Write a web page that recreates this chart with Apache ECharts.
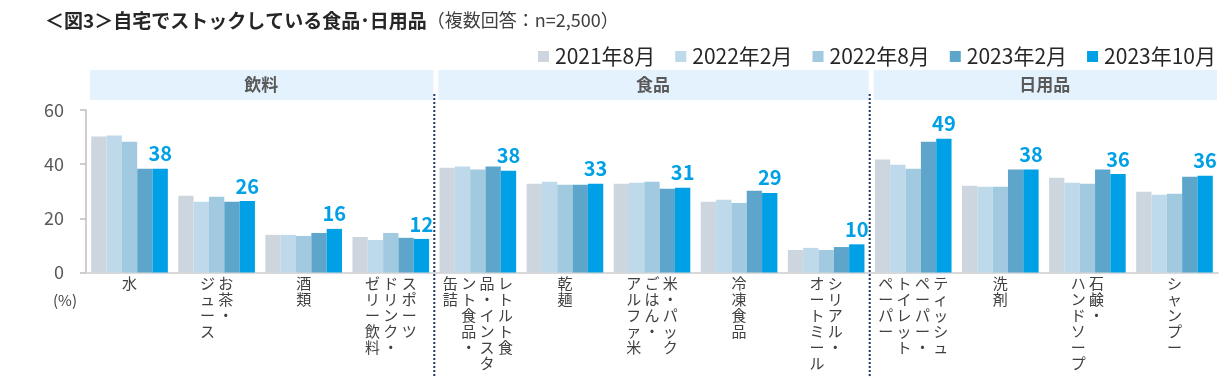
<!DOCTYPE html>
<html>
<head>
<meta charset="utf-8">
<script src="https://cdn.jsdelivr.net/npm/echarts@6/dist/echarts.min.js"></script>
<style>
  html, body { margin: 0; padding: 0; background: #fff; }
  #main { width: 1229px; height: 377px; }
</style>
</head>
<body>
<div id="main"></div>
<script>
// categories (full names) and how each tick label breaks into vertical columns (right to left)
const categories = ['水', 'お茶・ジュース', '酒類', 'スポーツドリンク・ゼリー飲料',
  'レトルト食品・インスタント食品・缶詰', '乾麺', '米・パックごはん・アルファ米', '冷凍食品', 'シリアル・オートミール',
  'ティッシュペーパー・トイレットペーパー', '洗剤', '石鹸・ハンドソープ', 'シャンプー'];
const labelColumns = [
  ['水'], ['お茶・', 'ジュース'], ['酒類'], ['スポーツ', 'ドリンク・', 'ゼリー飲料'],
  ['レトルト食', '品・インスタ', 'ント食品・', '缶詰'], ['乾麺'], ['米・パック', 'ごはん・', 'アルファ米'], ['冷凍食品'], ['シリアル・', 'オートミール'],
  ['ティッシュ', 'ペーパー・', 'トイレット', 'ペーパー'], ['洗剤'], ['石鹸・', 'ハンドソープ'], ['シャンプー']
];
const groups = ['飲料', '食品', '日用品'];
const groupSizes = [4, 5, 4];

const seriesNames = ['2021年8月', '2022年2月', '2022年8月', '2023年2月', '2023年10月'];
const colors = ['#CDD5DF', '#BDD9EA', '#A1C9E0', '#5EA5CC', '#00A0E6'];

const v2021Aug = [50.2, 28.3, 13.9, 13.1, 38.7, 32.8, 32.8, 26.1, 8.3, 41.7, 32.0, 35.0, 29.8];
const v2022Feb = [50.6, 26.1, 13.9, 12.0, 39.1, 33.5, 33.1, 26.9, 9.1, 39.8, 31.7, 33.1, 28.7];
const v2022Aug = [48.3, 28.0, 13.5, 14.6, 38.0, 32.4, 33.5, 25.7, 8.3, 38.3, 31.7, 32.8, 29.1];
const v2023Feb = [38.3, 26.1, 14.6, 12.8, 39.1, 32.4, 30.9, 30.2, 9.4, 48.3, 38.0, 38.0, 35.4];
const v2023Oct = [38.3, 26.4, 16.1, 12.4, 37.6, 32.8, 31.3, 29.4, 10.4, 49.4, 38.0, 36.4, 35.7];
const allValues = [v2021Aug, v2022Feb, v2022Aug, v2023Feb, v2023Oct];

const yTicks = { min: 0, max: 60, interval: 20 };

const FONT = '"Noto Sans CJK JP", "Noto Sans", sans-serif';

function verticalLabel(cols) {
  const rows = Math.max(...cols.map(c => c.length));
  const order = cols.slice().reverse();
  const lines = [];
  for (let i = 0; i < rows; i++) {
    lines.push(order.map(c => c[i] || '\u3000').join(' '));
  }
  return lines.join('\n');
}

const chart = echarts.init(document.getElementById('main'));

const option = {
  animation: false,
  color: colors,
  textStyle: { fontFamily: FONT },
  title: {
    left: 40,
    top: 6,
    text: '{b|＜図3＞自宅でストックしている食品･日用品}{n|（複数回答：n=2,500）}',
    textStyle: {
      fontWeight: 'normal',
      rich: {
        b: { fontFamily: FONT, fontSize: 19, fontWeight: 'bold', color: '#262626' },
        n: { fontFamily: FONT, fontSize: 18, fontWeight: 'normal', color: '#404040' }
      }
    }
  },
  legend: {
    right: 8,
    top: 41,
    icon: 'rect',
    itemWidth: 11,
    itemHeight: 11,
    itemGap: 20,
    textStyle: { fontFamily: FONT, fontSize: 21, color: '#262626', padding: [0, 0, 0, 1] },
    data: seriesNames
  },
  grid: { left: 86, right: 11, top: 110, bottom: 104.5, containLabel: false },
  xAxis: {
    type: 'category',
    data: categories,
    axisLine: { show: true, lineStyle: { color: '#D9D9D9', width: 2 } },
    axisTick: { show: false },
    axisLabel: {
      interval: 0,
      margin: 3,
      fontSize: 15,
      lineHeight: 16,
      color: '#404040',
      verticalAlign: 'top',
      formatter: (val, idx) => verticalLabel(labelColumns[idx])
    }
  },
  yAxis: {
    type: 'value',
    min: yTicks.min,
    max: yTicks.max,
    interval: yTicks.interval,
    splitLine: { show: false },
    axisLine: { show: true, lineStyle: { color: '#BFBFBF', width: 1.5 } },
    axisTick: { show: true, length: 6, lineStyle: { color: '#BFBFBF', width: 1.5 } },
    axisLabel: { fontSize: 18, color: '#595959', margin: 22 }
  },
  series: seriesNames.map((name, i) => ({
    name: name,
    type: 'bar',
    data: allValues[i],
    barGap: '0%',
    barCategoryGap: '12%',
    label: i === seriesNames.length - 1 ? {
      show: true,
      position: 'top',
      distance: 5,
      fontFamily: FONT,
      fontSize: 20,
      fontWeight: 'bold',
      color: '#00A0E6',
      formatter: p => Math.round(p.value)
    } : { show: false }
  }))
};

chart.setOption(option);

// group header boxes and dividers, placed from the category axis scale
const c0 = chart.convertToPixel({ xAxisIndex: 0 }, 0);
const c1 = chart.convertToPixel({ xAxisIndex: 0 }, 1);
const band = c1 - c0;
const startX = c0 - band / 2;
const graphics = [];
let acc = 0;
groups.forEach((g, gi) => {
  const x0 = startX + acc * band;
  const x1 = startX + (acc + groupSizes[gi]) * band;
  graphics.push({
    type: 'rect',
    shape: { x: x0 + 4, y: 70, width: x1 - x0 - 5, height: 30 },
    style: { fill: '#E3F2FC' },
    z: 0
  });
  graphics.push({
    type: 'text',
    x: (x0 + x1) / 2 + 1,
    y: 85,
    style: {
      text: g, fontFamily: FONT, fontSize: 17, fontWeight: 'bold',
      fill: '#595959', align: 'center', verticalAlign: 'middle'
    },
    z: 1
  });
  if (gi > 0) {
    graphics.push({
      type: 'line',
      shape: { x1: x0, y1: 94, x2: x0, y2: 377 },
      style: { stroke: '#1F3864', lineWidth: 2, lineDash: [2, 2] },
      z: 5
    });
  }
  acc += groupSizes[gi];
});
graphics.push({
  type: 'text',
  x: 65,
  y: 300,
  style: { text: '(%)', fontFamily: FONT, fontSize: 15, fill: '#404040', align: 'center', verticalAlign: 'middle' }
});
chart.setOption({ graphic: graphics });
</script>
</body>
</html>
